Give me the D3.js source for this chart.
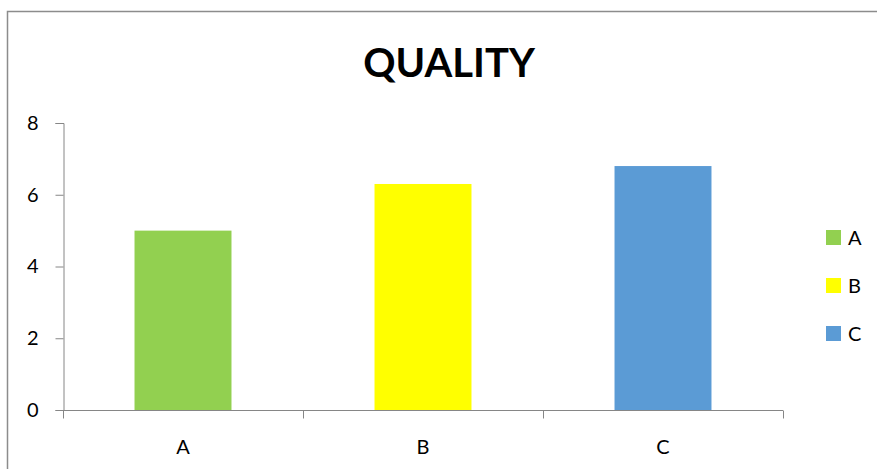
<!DOCTYPE html>
<html>
<head>
<meta charset="utf-8">
<script src="https://cdn.jsdelivr.net/npm/d3@7"></script>
<style>
  html, body { margin: 0; padding: 0; background: #fff; }
  svg { display: block; }
  text { font-family: Lato, "Open Sans", sans-serif; fill: #000; }
</style>
</head>
<body>
<svg id="chart" width="877" height="469"></svg>
<script>
const categories = ["A", "B", "C"];
const values = [5.0, 6.3, 6.8];
const colors = ["#92D050", "#FFFF00", "#5B9BD5"];
const yTicks = [0, 2, 4, 6, 8];
const chartTitle = "QUALITY";

const svg = d3.select("#chart");
const W = 877, H = 469;
const plot = { left: 63, right: 783, top: 123, bottom: 410 };

// outer chart frame (only top and left edges fall inside the view)
svg.append("rect")
  .attr("x", 7.5).attr("y", 11.5)
  .attr("width", W + 20).attr("height", H + 20)
  .attr("fill", "none").attr("stroke", "#8c8c8c").attr("stroke-width", 1.5);

const x = d3.scaleBand()
  .domain(categories)
  .range([plot.left, plot.right])
  .paddingInner(0.596)
  .paddingOuter(0.298);

const y = d3.scaleLinear().domain([0, 8]).range([plot.bottom, plot.top]);

// title
svg.append("text")
  .attr("x", 449).attr("y", 77)
  .attr("text-anchor", "middle")
  .attr("font-size", 40).attr("font-weight", 700)
  .text(chartTitle);

// bars
svg.append("g").selectAll("rect")
  .data(categories)
  .join("rect")
  .attr("x", (d) => x(d))
  .attr("width", x.bandwidth())
  .attr("y", (d, i) => y(values[i]))
  .attr("height", (d, i) => y(0) - y(values[i]))
  .attr("fill", (d, i) => colors[i]);

// y axis
const yAxis = svg.append("g")
  .attr("transform", `translate(${plot.left + 0.5},0)`)
  .call(d3.axisLeft(y).tickValues(yTicks).tickSize(8).tickPadding(17).tickFormat(d3.format("d")));
yAxis.select(".domain").attr("stroke", "#868686");
yAxis.selectAll(".tick line").attr("stroke", "#868686");
yAxis.selectAll(".tick text").attr("font-size", 20).attr("font-family", "Lato, sans-serif").attr("fill", "#000");

// x axis: tick marks on category boundaries, labels centred in bands
const xg = svg.append("g").attr("transform", `translate(0,${plot.bottom + 0.5})`);
xg.append("line")
  .attr("x1", plot.left).attr("x2", plot.right)
  .attr("stroke", "#868686");
const step = x.step();
const bounds = d3.range(categories.length + 1).map((i) => plot.left + i * step);
xg.selectAll("line.tick")
  .data(bounds)
  .join("line")
  .attr("class", "tick")
  .attr("x1", (d) => Math.round(d) + 0.5).attr("x2", (d) => Math.round(d) + 0.5)
  .attr("y1", 0).attr("y2", 8)
  .attr("stroke", "#868686");
xg.selectAll("text")
  .data(categories)
  .join("text")
  .attr("x", (d) => x(d) + x.bandwidth() / 2)
  .attr("y", 43)
  .attr("text-anchor", "middle")
  .attr("font-size", 20)
  .text((d) => d);

// legend
const legend = svg.append("g").attr("transform", "translate(826,230)");
const items = legend.selectAll("g")
  .data(categories)
  .join("g")
  .attr("transform", (d, i) => `translate(0,${i * 48})`);
items.append("rect")
  .attr("width", 15).attr("height", 15)
  .attr("fill", (d, i) => colors[i]);
items.append("text")
  .attr("x", 22).attr("y", 15)
  .attr("font-size", 20)
  .text((d) => d);
</script>
</body>
</html>
